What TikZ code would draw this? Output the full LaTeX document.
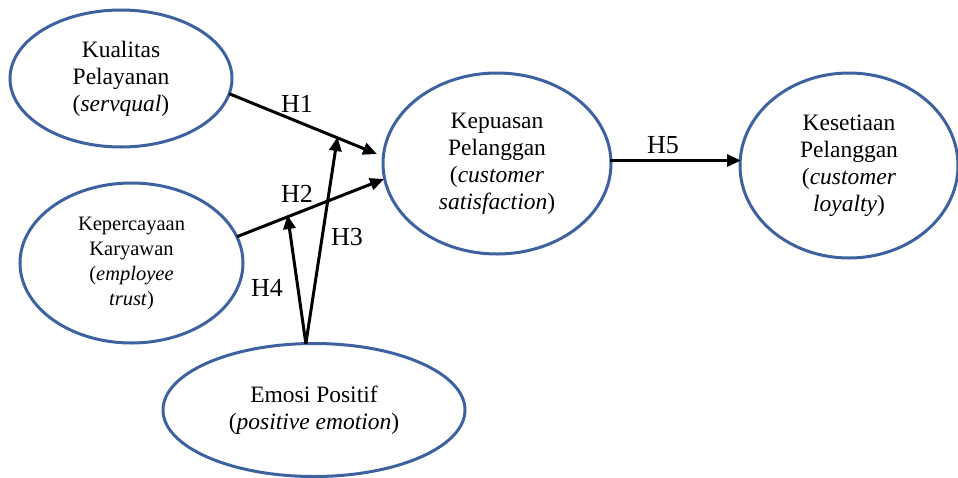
\documentclass[tikz,border=0pt]{standalone}
\usepackage{fontspec}
\setmainfont{Liberation Serif}
\usetikzlibrary{shapes.geometric,arrows.meta}
\definecolor{ellblue}{RGB}{62,98,160}
\tikzset{
  var/.style={ellipse, draw=ellblue, line width=3pt, inner sep=0pt, outer sep=0pt,
    align=center, font=\fontsize{23.5}{27}\selectfont},
  arr/.style={line width=3pt, draw=black, -{Triangle[length=14pt,width=12pt]}},
  hyp/.style={font=\fontsize{26}{28}\selectfont, inner sep=0pt}
}
\begin{document}
\begin{tikzpicture}[x=1pt,y=-1pt]
\useasboundingbox (0,0) rectangle (958,477);
% ellipses
\node[var, minimum width=222pt, minimum height=137pt] (kp) at (121,78.5)
  {Kualitas\\Pelayanan\\(\textit{servqual})};
\node[var, minimum width=223pt, minimum height=160pt, font=\fontsize{20.5}{25}\selectfont] (kk) at (131.5,263)
  {Kepercayaan\\Karyawan\\(\textit{employee}\\\textit{trust})};
\node[var, minimum width=302pt, minimum height=133pt] (ep) at (314,410)
  {Emosi Positif\\(\textit{positive emotion})};
\node[var, minimum width=228pt, minimum height=181pt] (ks) at (497,163.5)
  {Kepuasan\\Pelanggan\\(\textit{customer}\\\textit{satisfaction})};
\node[var, minimum width=218pt, minimum height=185pt] (kl) at (849,165.5)
  {Kesetiaan\\Pelanggan\\(\textit{customer}\\\textit{loyalty})};
% arrow ends
\coordinate (e1) at (377,154);
\coordinate (e2) at (384,179);
\coordinate (e3) at (337.5,137);
\coordinate (e4) at (287.5,215);
\coordinate (e5) at (741,160.5);
\coordinate (s5) at (610,160.5);
% connectors
\draw[arr] (kp.-8) -- (e1);
\draw[arr] (kk.14) -- (e2);
\draw[arr] (ep.97) -- (e3);
\draw[arr] (ep.97) -- (e4);
\draw[arr] (s5) -- (e5);
% labels
\node[hyp] (h1) at (297,104) {H1};
\node[hyp] (h2) at (297,194) {H2};
\node[hyp] (h3) at (347,237) {H3};
\node[hyp] (h4) at (267,288) {H4};
\node[hyp] (h5) at (663,145) {H5};
\end{tikzpicture}
\end{document}
